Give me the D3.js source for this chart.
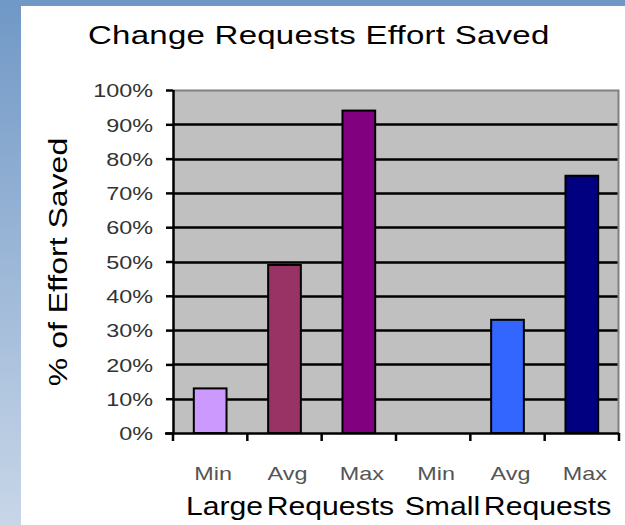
<!DOCTYPE html>
<html>
<head>
<meta charset="utf-8">
<script src="https://cdn.jsdelivr.net/npm/d3@7"></script>
<style>
  body { margin: 0; background: #fff; }
  svg { display: block; }
  text { font-family: Arial, 'Liberation Sans', sans-serif; }
</style>
</head>
<body>
<div id="chart"></div>
<script>
// data
const groups = ['Large Requests', 'Small Requests'];
const categories = ['Min', 'Avg', 'Max'];
const largeValues = [0.13, 0.49, 0.94];
const smallValues = [0, 0.33, 0.75];
const barColors = ['#cc99ff', '#993366', '#800080', '#9999ff', '#3366ff', '#000080'];
const yTicks = [0, 0.1, 0.2, 0.3, 0.4, 0.5, 0.6, 0.7, 0.8, 0.9, 1.0];

const svgWidth = 625;
const svgHeight = 525;
const margin = {top: 90, left: 173};
const width = 619 - margin.left;
const height = 433 - margin.top;
// the original chart was stretched sideways, so every label is too
const stretch = 1.3;

const svg = d3.select('#chart').append('svg').attr('width', svgWidth).attr('height', svgHeight);

// slide background: blue strip on the left and top
const grad = svg.append('defs').append('linearGradient')
    .attr('id', 'side').attr('x1', 0).attr('y1', 0).attr('x2', 0).attr('y2', 1);
grad.append('stop').attr('offset', '0%').attr('stop-color', '#7098c6');
grad.append('stop').attr('offset', '100%').attr('stop-color', '#c8d6e8');
svg.append('rect').attr('x', 0).attr('y', 0).attr('width', 21).attr('height', svgHeight).attr('fill', 'url(#side)');
svg.append('rect').attr('x', 0).attr('y', 0).attr('width', svgWidth).attr('height', 6).attr('fill', '#7199c7');

// flatten data into bars
const bars = [];
groups.forEach((g, gi) => {
    const vals = gi === 0 ? largeValues : smallValues;
    categories.forEach((c, ci) => {
        bars.push({key: g + ' ' + c, group: g, cat: c, value: vals[ci], color: barColors[gi * 3 + ci]});
    });
});

const x = d3.scaleBand().domain(bars.map(d => d.key)).range([0, width]).paddingInner(0.56).paddingOuter(0.28);
const xOuter = d3.scaleBand().domain(bars.map(d => d.key)).range([0, width]);
const y = d3.scaleLinear().domain([0, 1]).range([height, 0]);

const chartGroup = svg.append('g').attr('transform', `translate(${margin.left}, ${margin.top})`);

// plot area
chartGroup.append('rect').attr('width', width).attr('height', height).attr('fill', '#c0c0c0');

// gridlines
chartGroup.selectAll('.grid').data(yTicks.slice(1, -1)).enter().append('line')
    .attr('x1', 0).attr('x2', width)
    .attr('y1', d => Math.round(y(d)) + 0.5).attr('y2', d => Math.round(y(d)) + 0.5)
    .attr('stroke', '#000').attr('stroke-width', 2.5);

// plot border top/right
chartGroup.append('path')
    .attr('d', `M0,0.5H${width - 0.5}V${height}`)
    .attr('fill', 'none').attr('stroke', '#808080').attr('stroke-width', 2);

// bars
chartGroup.selectAll('.bar').data(bars.filter(d => d.value > 0)).enter().append('rect')
    .attr('x', d => x(d.key))
    .attr('y', d => y(d.value))
    .attr('width', x.bandwidth())
    .attr('height', d => height - y(d.value))
    .attr('fill', d => d.color)
    .attr('stroke', '#000').attr('stroke-width', 2);

// y axis
const leftAxis = d3.axisLeft(y).tickValues(yTicks).tickFormat(d3.format('.0%')).tickSize(7).tickPadding(8);
const yAxis = chartGroup.append('g').call(leftAxis);
yAxis.select('.domain').attr('stroke-width', 2.5).attr('d', `M0.5,0V${height}`);
yAxis.selectAll('.tick line').attr('stroke-width', 2.5);
yAxis.selectAll('text')
    .attr('x', 0)
    .attr('transform', `translate(-20,1) scale(${stretch},1)`)
    .attr('font-family', null)
    .attr('font-size', 18).attr('fill', '#333');

// x axis
const bottomAxis = d3.axisBottom(xOuter).tickSize(0).tickFormat('');
const xAxis = chartGroup.append('g').attr('transform', `translate(0, ${height})`).call(bottomAxis);
xAxis.select('.domain').attr('stroke', '#000').attr('stroke-width', 2.5).attr('d', `M-8,0.5H${width}`);
xAxis.selectAll('.sep').data(d3.range(bars.length + 1)).enter().append('line')
    .attr('x1', i => i * xOuter.step()).attr('x2', i => i * xOuter.step())
    .attr('y1', 0).attr('y2', 8)
    .attr('stroke', '#000').attr('stroke-width', 2.5);

// category labels
chartGroup.selectAll('.cat').data(bars).enter().append('text')
    .attr('transform', d => `translate(${xOuter(d.key) + xOuter.bandwidth() / 2 + 3}, ${height + 47}) scale(${stretch},1)`)
    .attr('text-anchor', 'middle')
    .attr('font-size', 18).attr('fill', '#555')
    .text(d => d.cat);

// group labels
const groupCenters = [290, 508];
svg.selectAll('.grp').data(groups).enter().append('text')
    .attr('transform', (d, i) => `translate(${groupCenters[i]}, 515) scale(1.16,1)`)
    .attr('text-anchor', 'middle')
    .attr('font-size', 26).attr('fill', '#000')
    .attr('word-spacing', -4)
    .text(d => d);

// titles
svg.append('text')
    .attr('transform', `translate(88, 44) scale(1.27,1)`)
    .attr('font-size', 26).attr('fill', '#000')
    .attr('letter-spacing', 0.2)
    .text('Change Requests Effort Saved');

svg.append('text')
    .attr('transform', `translate(67, 262) rotate(-90) scale(1.28,1)`)
    .attr('text-anchor', 'middle')
    .attr('font-size', 25).attr('fill', '#000')
    .text('% of Effort Saved');
</script>
</body>
</html>
